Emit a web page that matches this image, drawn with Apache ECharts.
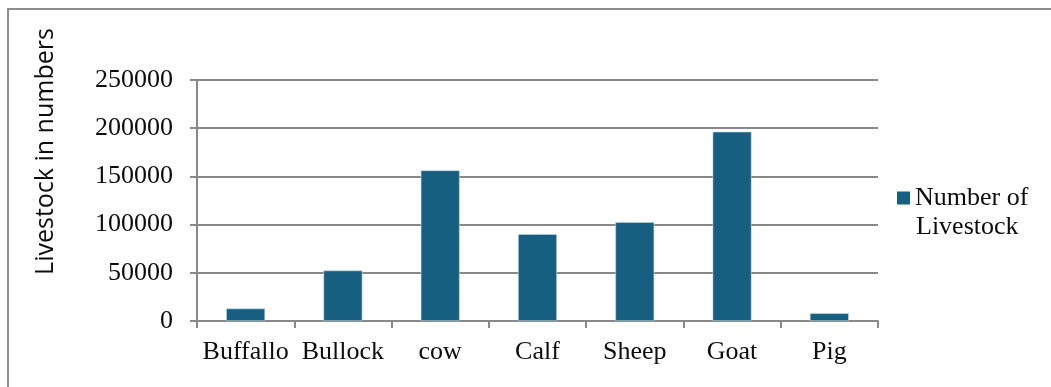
<!DOCTYPE html>
<html>
<head>
<meta charset="utf-8">
<script src="https://cdn.jsdelivr.net/npm/echarts@6/dist/echarts.min.js"></script>
<style>
  html, body { margin: 0; padding: 0; background: #ffffff; }
  #chart { width: 1051px; height: 387px; }
</style>
</head>
<body>
<div id="chart"></div>
<script>
// Livestock counts by animal type
const categories = ['Buffallo', 'Bullock', 'cow', 'Calf', 'Sheep', 'Goat', 'Pig'];
const livestockCounts = [12900, 52400, 156300, 90100, 102600, 196400, 8000];
const seriesName = 'Number of Livestock';
const legendLines = ['Number of', 'Livestock'];
const yAxisTitle = 'Livestock in numbers';
const yTicks = { min: 0, max: 250000, interval: 50000 };

const axisGray = '#898989';
const barColor = '#175f80';
const textColor = '#0d0d0d';
const serif = '"Liberation Serif", "Times New Roman", serif';
const sans = '"Open Sans", "Liberation Sans", sans-serif';

const chart = echarts.init(document.getElementById('chart'), null, { renderer: 'canvas' });

chart.setOption({
  backgroundColor: '#ffffff',
  animation: false,
  grid: { left: 197, right: 173, top: 80, bottom: 66, containLabel: false },
  graphic: [
    // frame edges (top and left)
    { type: 'line', shape: { x1: 7, y1: 9, x2: 1051, y2: 9 }, style: { stroke: '#8e8e8e', lineWidth: 2 } },
    { type: 'line', shape: { x1: 8, y1: 8, x2: 8, y2: 387 }, style: { stroke: '#8e8e8e', lineWidth: 2 } },
    // vertical axis title
    {
      type: 'text', x: 46, y: 151.5, rotation: Math.PI / 2,
      style: {
        text: yAxisTitle, font: '25px ' + sans, fill: textColor,
        textAlign: 'center', textVerticalAlign: 'middle'
      }
    },
    // second line of the legend label
    {
      type: 'text', x: 916, y: 227,
      style: {
        text: legendLines[1], font: '26px ' + serif, fill: textColor,
        textAlign: 'left', textVerticalAlign: 'middle'
      }
    }
  ],
  legend: {
    show: true,
    orient: 'vertical',
    left: 897,
    top: 183,
    padding: 0,
    itemWidth: 13,
    itemHeight: 13,
    itemGap: 0,
    icon: 'rect',
    itemStyle: { borderWidth: 0 },
    formatter: () => legendLines[0],
    textStyle: { fontFamily: serif, fontSize: 26, color: textColor, lineHeight: 30 },
    data: [seriesName]
  },
  xAxis: {
    type: 'category',
    data: categories,
    axisLine: { lineStyle: { color: axisGray, width: 2 } },
    axisTick: { show: true, alignWithLabel: false, length: 7, lineStyle: { color: axisGray, width: 2 } },
    axisLabel: { fontFamily: serif, fontSize: 26, color: textColor, margin: 18, interval: 0 },
    splitLine: { show: false }
  },
  yAxis: {
    type: 'value',
    min: yTicks.min,
    max: yTicks.max,
    interval: yTicks.interval,
    axisLine: { show: true, lineStyle: { color: axisGray, width: 2 } },
    axisTick: { show: true, length: 7, lineStyle: { color: axisGray, width: 2 } },
    axisLabel: { fontFamily: serif, fontSize: 26, color: textColor, margin: 24, formatter: v => String(v) },
    splitLine: { show: true, lineStyle: { color: axisGray, width: 2 } }
  },
  series: [{
    name: seriesName,
    type: 'bar',
    data: livestockCounts,
    barWidth: '40%',
    itemStyle: { color: barColor, borderColor: '#c9dbe6', borderWidth: 0.6 }
  }]
});
</script>
</body>
</html>
